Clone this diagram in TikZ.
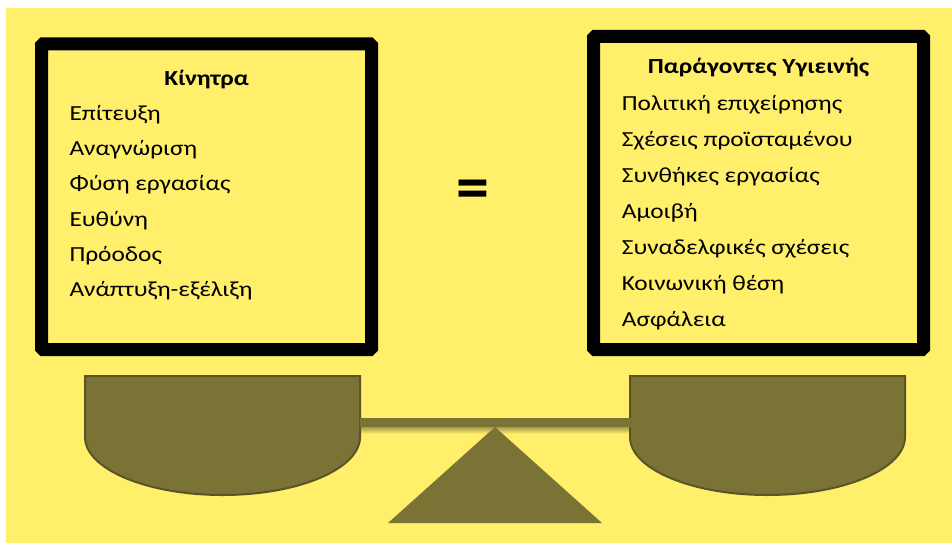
\documentclass[tikz,border=0pt]{standalone}
\usepackage{fontspec}
\setmainfont{Carlito}[FakeStretch=1.18]
\newfontfamily\eqfont{Carlito}
\definecolor{bg}{HTML}{FFEF6B}
\definecolor{olive}{HTML}{7B7335}
\definecolor{olivedark}{HTML}{5A5428}
\begin{document}
\begin{tikzpicture}[x=1pt,y=-1pt,
  frame/.style={draw=black,line width=13pt,rounded corners=1.5pt,fill=bg,inner sep=0pt},
  item/.style={anchor=base west,inner sep=0pt,font=\fontsize{21.5}{24}\selectfont},
  ttl/.style={anchor=base,inner sep=0pt,font=\fontsize{21.5}{24}\selectfont\bfseries},
  pan/.style={fill=olive,draw=olivedark,line width=2pt}]
\useasboundingbox (0,0) rectangle (952,543);
\fill[white] (0,0) rectangle (952,543);
\fill[bg] (6,8) rectangle (952,543);
% boxes
\node[frame,minimum width=330pt,minimum height=305.5pt] (lbox) at (206.5,196.75) {};
\node[frame,minimum width=330pt,minimum height=313pt] (rbox) at (758.5,193) {};
% left texts
\node[ttl] (lt) at (206.5,85) {Κίνητρα};
\node[item] (l1) at (69.3,120) {Επίτευξη};
\node[item] (l2) at (69.3,155.3) {Αναγνώριση};
\node[item] (l3) at (69.3,190.7) {Φύση εργασίας};
\node[item] (l4) at (69.3,226) {Ευθύνη};
\node[item] (l5) at (69.3,261.3) {Πρόοδος};
\node[item] (l6) at (69.3,296.7) {Ανάπτυξη-εξέλιξη};
% right texts
\node[ttl] (rt) at (758.5,74) {Παράγοντες Υγιεινής};
\node[item] (r1) at (621.7,110.7) {Πολιτική επιχείρησης};
\node[item] (r2) at (621.7,146.7) {Σχέσεις προϊσταμένου};
\node[item] (r3) at (621.7,182.7) {Συνθήκες εργασίας};
\node[item] (r4) at (621.7,218.7) {Αμοιβή};
\node[item] (r5) at (621.7,254.7) {Συναδελφικές σχέσεις};
\node[item] (r6) at (621.7,290.7) {Κοινωνική θέση};
\node[item] (r7) at (621.7,326.7) {Ασφάλεια};
% equals
\node[inner sep=0pt,font=\eqfont\fontsize{66}{66}\selectfont\bfseries] (eq) at (472.5,195) {=};
% scale
\shade[top color=olivedark!60!bg,bottom color=bg] (360,426) rectangle (632,434);
\fill[olive] (495,427) -- (602,523) -- (388,523) -- cycle;
\draw[pan] (85,376) -- (360,376) -- (360,437) .. controls (360,469) and (298.4,495) .. (222.5,495) .. controls (146.6,495) and (85,469) .. (85,437) -- cycle;
\draw[pan] (630,376) -- (905,376) -- (905,437) .. controls (905,469) and (843.4,495) .. (767.5,495) .. controls (691.6,495) and (630,469) .. (630,437) -- cycle;
\fill[olive] (360,418) rectangle (643,427);
\end{tikzpicture}
\end{document}
